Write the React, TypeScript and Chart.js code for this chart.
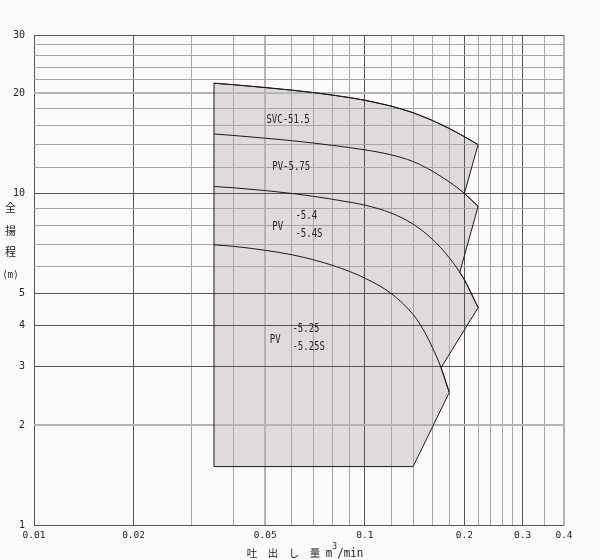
import React, { useEffect, useRef } from "react";
import { Chart, registerables } from "chart.js";
Chart.register(...registerables);

// ---- data (flow m3/min, head m) ----
const flowPoints = [0.035, 0.04, 0.05, 0.06, 0.07, 0.08, 0.09, 0.1, 0.12, 0.14, 0.16, 0.18, 0.2, 0.22];
const headSVC515 = [21.47, 21.25, 20.83, 20.46, 20.11, 19.76, 19.43, 19.07, 18.32, 17.49, 16.58, 15.68, 14.81, 14.02];
const headPV575 = [15.09, 14.94, 14.66, 14.41, 14.17, 13.94, 13.73, 13.52, 13.06, 12.46, 11.66, 10.82, 9.99, 9.13];
const headPV54 = [10.48, 10.39, 10.19, 9.99, 9.79, 9.59, 9.4, 9.21, 8.72, 8.07, 7.27, 6.39, 5.49, 4.52];
const flowPV525 = [0.035, 0.04, 0.05, 0.06, 0.07, 0.08, 0.09, 0.1, 0.12, 0.14, 0.15, 0.16, 0.17, 0.18];
const headPV525 = [6.99, 6.92, 6.73, 6.53, 6.3, 6.06, 5.81, 5.55, 4.99, 4.31, 3.89, 3.43, 2.98, 2.51];

const areaMinFlow = 0.035;
const areaMinHead = 1.5;
const areaBottomRightFlow = 0.14;
const junctionPV54Flow = 0.1935;
const junctionPV54Head = 5.76;
const junctionPV575Flow = 0.2;
const junctionPV525Flow = 0.17;

const xGridValues = [0.01, 0.02, 0.03, 0.04, 0.05, 0.06, 0.07, 0.08, 0.09, 0.1, 0.12, 0.14, 0.16, 0.18, 0.2, 0.22, 0.24, 0.26, 0.28, 0.3, 0.35, 0.4];
const xTickLabels = ["0.01", "0.02", "0.05", "0.1", "0.2", "0.3", "0.4"];
const yGridValues = [1, 2, 3, 4, 5, 6, 7, 8, 9, 10, 12, 14, 16, 18, 20, 22, 24, 26, 28, 30];
const yTickLabels = ["1", "2", "3", "4", "5", "10", "20", "30"];
const xDarkLines = [0.01, 0.02, 0.1, 0.2, 0.3];
const xHeavyLines = [0.05, 0.4];
const yDarkLines = [1, 3, 4, 5, 10, 30];
const yHeavyLines = [2, 20];

const curveLabelTexts = ["SVC-51.5", "PV-5.75", "PV", "-5.4", "-5.4S", "PV", "-5.25", "-5.25S"];
const curveLabelFlows = [0.0504, 0.0525, 0.0525, 0.0617, 0.0617, 0.0516, 0.0604, 0.0604];
const curveLabelHeads = [16.67, 11.99, 7.91, 8.54, 7.56, 3.61, 3.89, 3.44];

const yTitleParts = ["全", "揚", "程", "(m)"];
const xTitleCJK = "吐　出　し　量";
const xTitleUnit = ["m", "3", "/min"];

const near = (a: number, b: number) => Math.abs(a - b) <= 1e-6 * Math.max(Math.abs(a), Math.abs(b));
const has = (arr: number[], v: number) => arr.some((a) => near(a, v));

const pts = (xs: number[], ys: number[]) => xs.map((x, i) => ({ x, y: ys[i] }));

function buildArea() {
  const poly: { x: number; y: number }[] = [];
  poly.push({ x: areaMinFlow, y: areaMinHead });
  pts(flowPoints, headSVC515).forEach((p) => poly.push(p));
  pts(flowPoints, headPV575).filter((p) => p.x >= junctionPV575Flow - 1e-9).forEach((p) => poly.push(p));
  poly.push({ x: junctionPV54Flow, y: junctionPV54Head });
  pts(flowPoints, headPV54).filter((p) => p.x > junctionPV54Flow).forEach((p) => poly.push(p));
  pts(flowPV525, headPV525).filter((p) => p.x >= junctionPV525Flow - 1e-9).forEach((p) => poly.push(p));
  poly.push({ x: areaBottomRightFlow, y: areaMinHead });
  poly.push({ x: areaMinFlow, y: areaMinHead });
  return poly;
}

const MONO = '"DejaVu Sans Mono", monospace';
const CJK = '"Noto Sans CJK JP", sans-serif';

const textPlugin = {
  id: "pumpTexts",
  afterDraw(chart: any) {
    const { ctx, chartArea } = chart;
    const xs = chart.scales.x;
    const ys = chart.scales.y;
    ctx.save();
    ctx.fillStyle = "#222";
    ctx.textBaseline = "middle";
    ctx.textAlign = "left";
    curveLabelTexts.forEach((t, i) => {
      const px = xs.getPixelForValue(curveLabelFlows[i]);
      const py = ys.getPixelForValue(curveLabelHeads[i]);
      ctx.save();
      ctx.translate(px, py);
      ctx.scale(0.75, 1);
      ctx.font = "12px " + MONO;
      ctx.fillText(t, 0, 0);
      ctx.restore();
    });
    // y-axis title (vertical stacked)
    const yOffsets = [173, 196, 217, 240];
    ctx.textAlign = "center";
    yTitleParts.forEach((t, i) => {
      const px = chartArea.left - 23.5;
      const py = chartArea.top + yOffsets[i];
      ctx.save();
      ctx.translate(px, py);
      if (i < 3) {
        ctx.font = "11px " + CJK;
      } else {
        ctx.scale(0.8, 1);
        ctx.font = "11px " + MONO;
      }
      ctx.fillText(t, 0, 0);
      ctx.restore();
    });
    // x-axis title
    ctx.textAlign = "left";
    let tx = chartArea.left + 212.8;
    const ty = chartArea.bottom + 28.5;
    ctx.font = "10.5px " + CJK;
    ctx.fillText(xTitleCJK, tx, ty);
    tx += ctx.measureText(xTitleCJK).width + 5.5;
    ctx.save();
    ctx.translate(tx, ty);
    ctx.scale(0.9, 1);
    ctx.font = "12px " + MONO;
    ctx.fillText(xTitleUnit[0], 0, 0);
    let w = ctx.measureText(xTitleUnit[0]).width;
    ctx.font = "9px " + MONO;
    ctx.fillText(xTitleUnit[1], w, -7);
    w += ctx.measureText(xTitleUnit[1]).width;
    ctx.font = "12px " + MONO;
    ctx.fillText(xTitleUnit[2], w, 0);
    ctx.restore();
    ctx.restore();
  },
};

function gridColor(dark: number[], heavy: number[]) {
  return (c: any) => {
    const v = c.tick ? c.tick.value : NaN;
    if (has(dark, v)) return "#555555";
    if (has(heavy, v)) return "#b4b4b4";
    return "#a6a6a6";
  };
}
function gridWidth(heavy: number[]) {
  return (c: any) => {
    const v = c.tick ? c.tick.value : NaN;
    return has(heavy, v) ? 2 : 1;
  };
}

export default function App() {
  const ref = useRef<HTMLCanvasElement | null>(null);
  useEffect(() => {
    document.body.style.margin = "0";
    const canvas = ref.current!;
    const curveStyle = {
      showLine: true,
      pointRadius: 0,
      borderColor: "#1a1a1a",
      borderWidth: 1,
      fill: false,
      cubicInterpolationMode: "monotone" as const,
    };
    const chart = new Chart(canvas, {
      type: "scatter",
      data: {
        datasets: [
          {
            label: "area",
            data: buildArea(),
            showLine: true,
            pointRadius: 0,
            borderColor: "#1a1a1a",
            borderWidth: 1,
            backgroundColor: "rgb(224,219,218)",
            fill: "shape",
            tension: 0,
          },
          { label: "SVC-51.5", data: pts(flowPoints, headSVC515), ...curveStyle },
          { label: "PV-5.75", data: pts(flowPoints, headPV575), ...curveStyle },
          { label: "PV-5.4", data: pts(flowPoints, headPV54), ...curveStyle },
          { label: "PV-5.25", data: pts(flowPV525, headPV525), ...curveStyle },
        ],
      },
      options: {
        responsive: false,
        animation: false,
        devicePixelRatio: 1,
        layout: { padding: { top: 35, right: 36, left: 0, bottom: 0 } },
        plugins: {
          legend: { display: false },
          tooltip: { enabled: false },
          filler: { drawTime: "beforeDraw" },
        } as any,
        scales: {
          x: {
            type: "logarithmic",
            min: 0.01,
            max: 0.4,
            afterBuildTicks: (s: any) => {
              s.ticks = xGridValues.map((v) => ({ value: v }));
            },
            afterFit: (s: any) => {
              s.height = 35;
            },
            border: { display: false },
            grid: { color: gridColor(xDarkLines, xHeavyLines), lineWidth: gridWidth(xHeavyLines), drawTicks: false },
            ticks: {
              autoSkip: false,
              maxRotation: 0,
              padding: 5,
              color: "#222",
              font: { family: "DejaVu Sans Mono", size: 9.5 },
              callback: (v: any) => xTickLabels.find((l) => near(parseFloat(l), Number(v))) ?? "",
            },
          },
          y: {
            type: "logarithmic",
            min: 1,
            max: 30,
            afterBuildTicks: (s: any) => {
              s.ticks = yGridValues.map((v) => ({ value: v }));
            },
            afterFit: (s: any) => {
              s.width = 34;
            },
            border: { display: false },
            grid: { color: gridColor(yDarkLines, yHeavyLines), lineWidth: gridWidth(yHeavyLines), drawTicks: false },
            ticks: {
              autoSkip: false,
              padding: 9,
              color: "#222",
              font: { family: "DejaVu Sans Mono", size: 10 },
              callback: (v: any) => yTickLabels.find((l) => near(parseFloat(l), Number(v))) ?? "",
            },
          },
        },
      },
      plugins: [textPlugin],
    } as any);
    return () => chart.destroy();
  }, []);
  return (
    <canvas
      ref={ref}
      width={600}
      height={560}
      style={{ display: "block", width: 600, height: 560, background: "#fcfafa" }}
    />
  );
}
